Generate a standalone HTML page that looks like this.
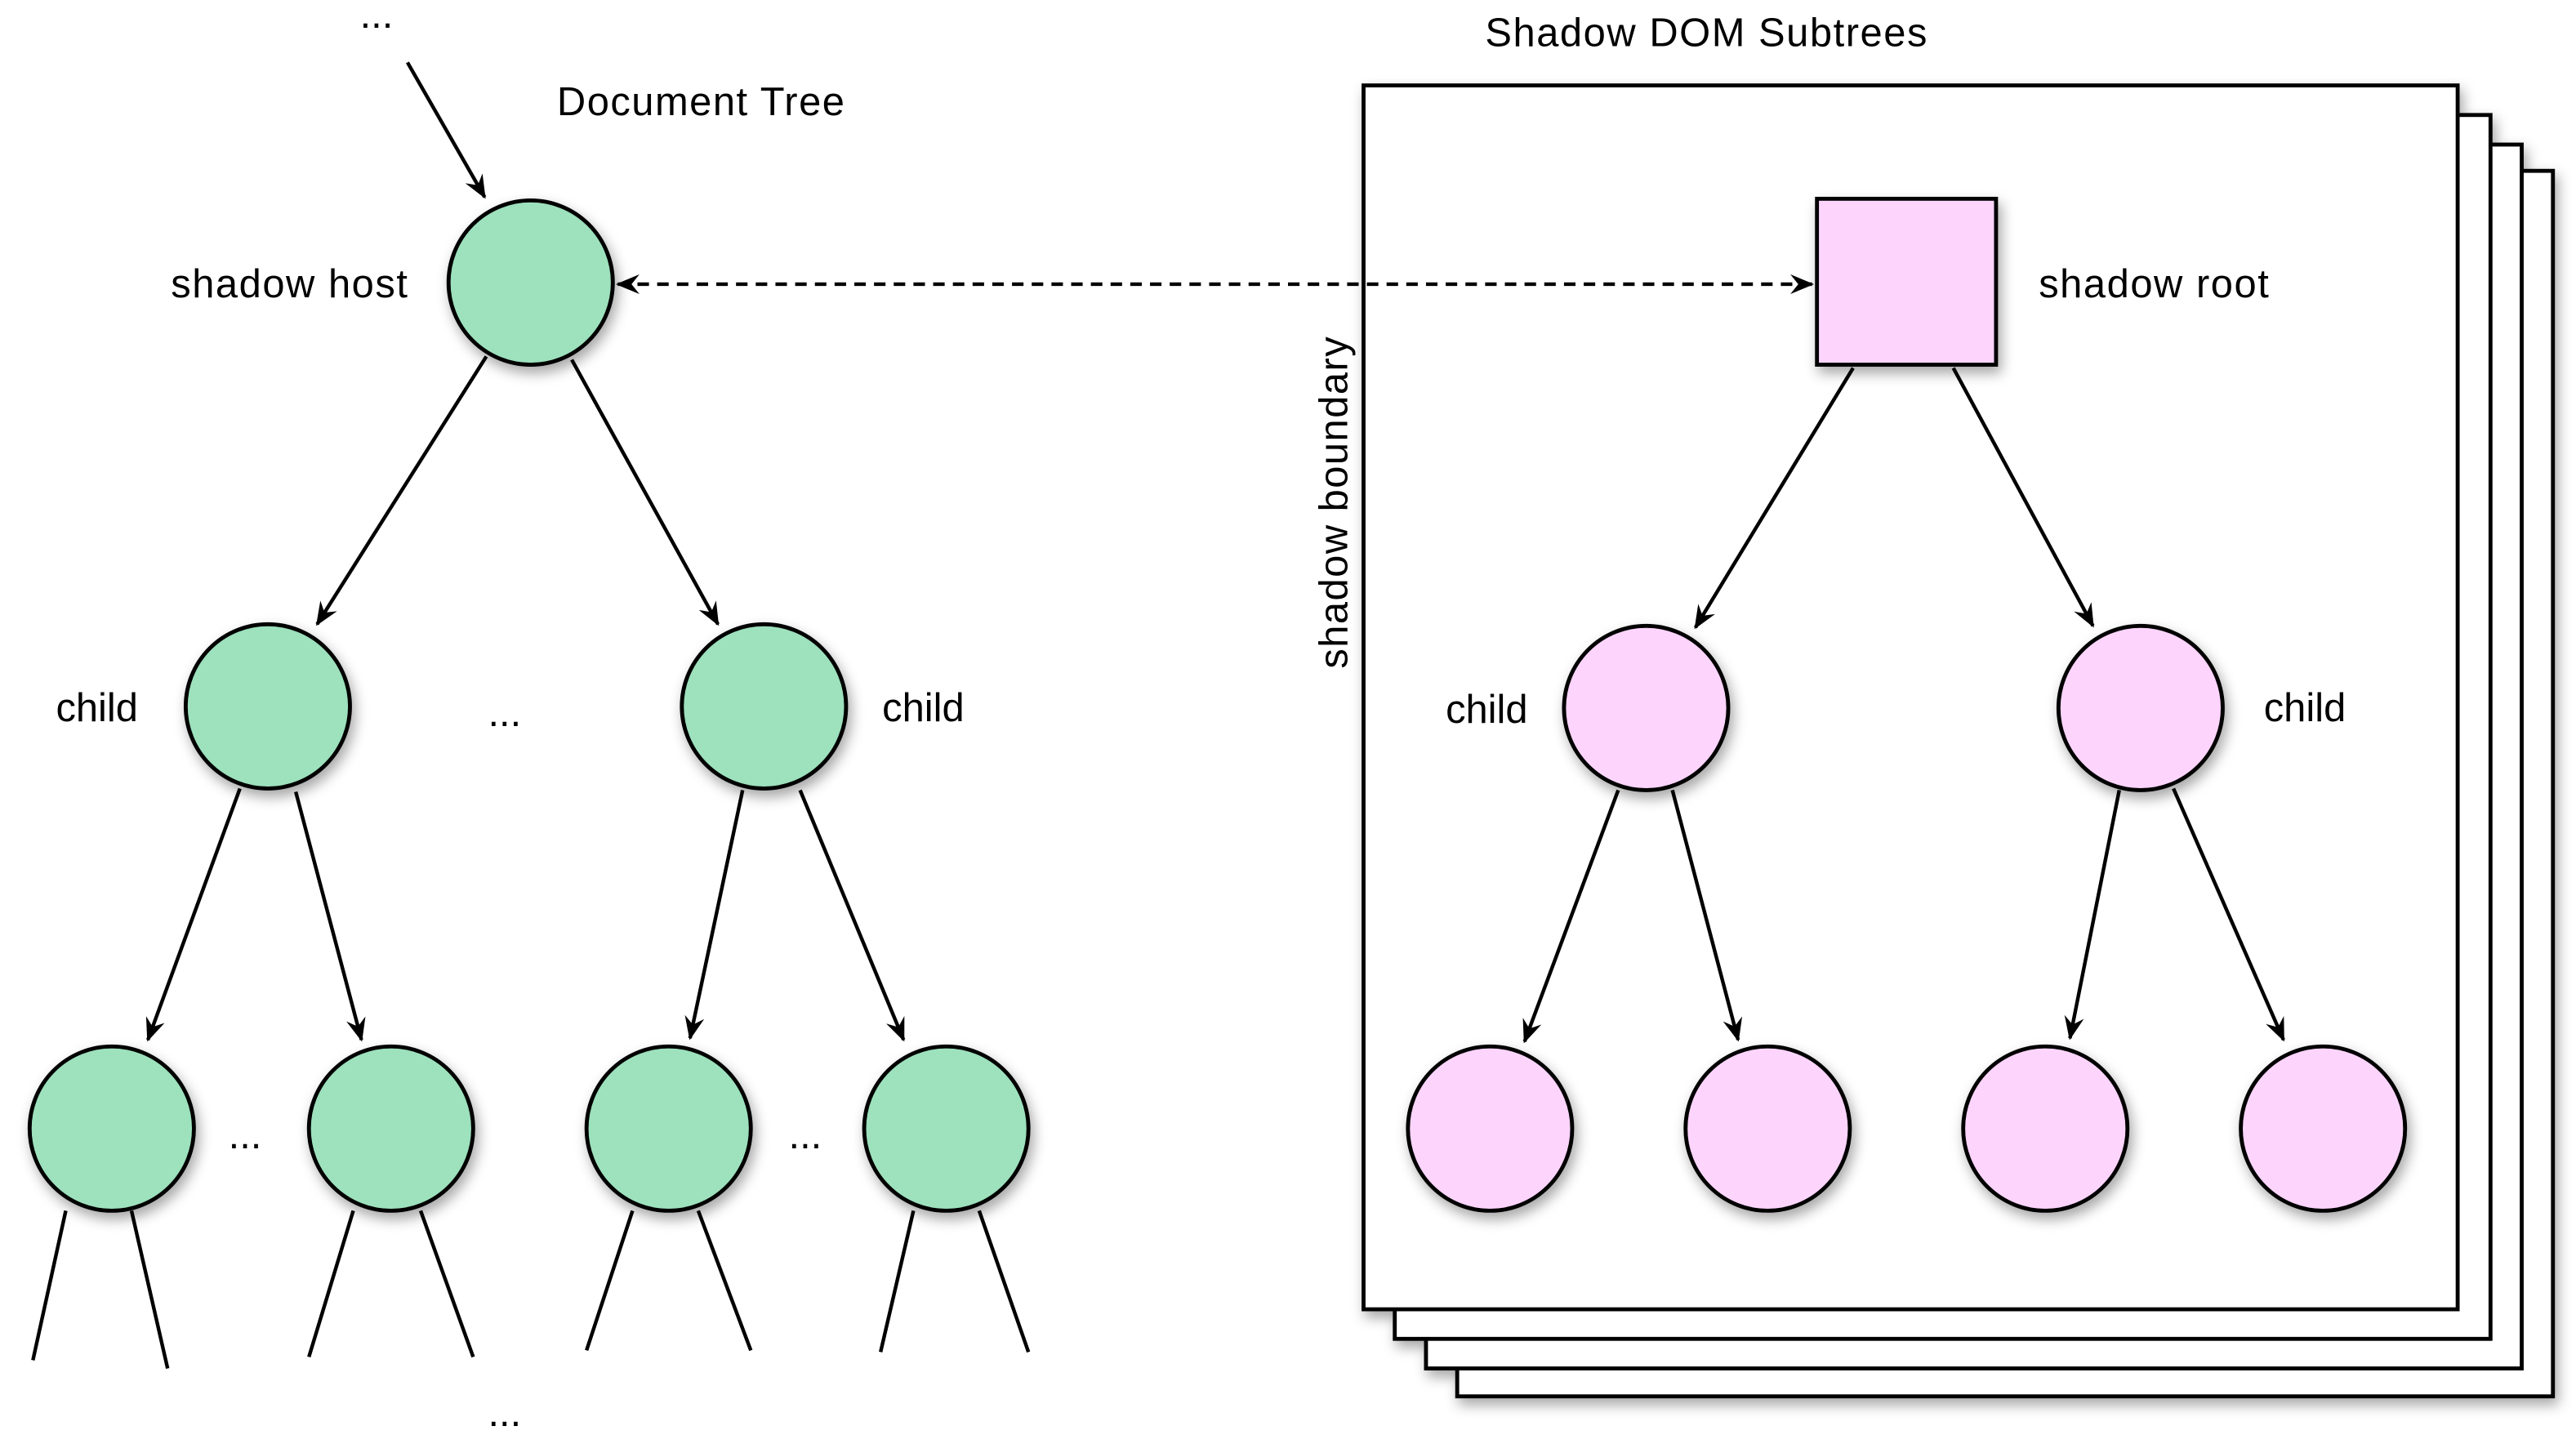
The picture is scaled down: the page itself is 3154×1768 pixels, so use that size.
<!DOCTYPE html>
<html><head><style>html,body{margin:0;padding:0;background:#fff;}svg{display:block}</style></head>
<body>
<svg width="3154" height="1768" viewBox="0 0 1568 879" xmlns="http://www.w3.org/2000/svg" font-family="Liberation Sans, Arial, sans-serif" font-size="24.3">
<defs>
<filter id="sh" x="-30%" y="-30%" width="160%" height="160%"><feDropShadow dx="2" dy="4" stdDeviation="4" flood-color="#000" flood-opacity="0.35"/></filter>
<marker id="ar" viewBox="0 0 12 10" refX="11" refY="5" markerWidth="15" markerHeight="12" orient="auto" markerUnits="userSpaceOnUse"><path d="M0,0 L12,5 L0,10 L4,5 Z" fill="#000"/></marker>
<marker id="as" viewBox="0 0 12 10" refX="1" refY="5" markerWidth="15" markerHeight="12" orient="auto" markerUnits="userSpaceOnUse"><path d="M12,0 L0,5 L12,10 L8,5 Z" fill="#000"/></marker>
</defs>
<g stroke="#000" stroke-width="2.4" fill="#fff" filter="url(#sh)">
<rect x="887" y="104" width="667" height="746"/>
<rect x="868" y="88" width="667" height="745"/>
<rect x="849" y="70" width="667" height="745"/>
<rect x="830" y="52" width="666" height="745"/>
</g>
<g stroke="#000" stroke-width="2.2" fill="none" marker-end="url(#ar)">
<line x1="248" y1="38" x2="295" y2="120"/>
<line x1="296" y1="217" x2="193" y2="380"/>
<line x1="348" y1="219" x2="437" y2="380"/>
<line x1="146" y1="480" x2="90" y2="633"/>
<line x1="180" y1="482" x2="220" y2="633"/>
<line x1="452" y1="481" x2="420" y2="632"/>
<line x1="487" y1="481" x2="550" y2="633"/>
<line x1="1128" y1="224" x2="1032" y2="382"/>
<line x1="1189" y1="224" x2="1274" y2="381"/>
<line x1="985" y1="481" x2="928" y2="634"/>
<line x1="1018" y1="481" x2="1058" y2="633"/>
<line x1="1290" y1="481" x2="1260" y2="632"/>
<line x1="1323" y1="480" x2="1390" y2="633"/>
</g>
<g stroke="#000" stroke-width="2.2">
<line x1="40" y1="737" x2="20" y2="828"/><line x1="80" y1="737" x2="102" y2="833"/>
<line x1="215" y1="737" x2="188" y2="826"/><line x1="256" y1="737" x2="288" y2="826"/>
<line x1="385" y1="737" x2="357" y2="822"/><line x1="425" y1="737" x2="457" y2="822"/>
<line x1="556" y1="737" x2="536" y2="823"/><line x1="596" y1="737" x2="626" y2="823"/>
<line x1="376" y1="173" x2="1103" y2="173" stroke-dasharray="7,5" marker-start="url(#as)" marker-end="url(#ar)"/>
</g>
<g stroke="#000" stroke-width="2.4" fill="#9de1bd" filter="url(#sh)">
<circle cx="323" cy="172" r="50"/>
<circle cx="163" cy="430" r="50"/><circle cx="465" cy="430" r="50"/>
<circle cx="68" cy="687" r="50"/><circle cx="238" cy="687" r="50"/>
<circle cx="407" cy="687" r="50"/><circle cx="576" cy="687" r="50"/>
</g>
<g stroke="#000" stroke-width="2.4" fill="#fcd4fc" filter="url(#sh)">
<rect x="1106" y="121" width="109" height="101"/>
<circle cx="1002" cy="431" r="50"/><circle cx="1303" cy="431" r="50"/>
<circle cx="907" cy="687" r="50"/><circle cx="1076" cy="687" r="50"/>
<circle cx="1245" cy="687" r="50"/><circle cx="1414" cy="687" r="50"/>
</g>
<g fill="#000">
<text x="219" y="17">...</text>
<text x="339" y="70" textLength="175">Document Tree</text>
<text x="104" y="181" textLength="144">shadow host</text>
<text x="34" y="439">child</text>
<text x="297" y="442">...</text>
<text x="537" y="439">child</text>
<text x="139" y="699">...</text>
<text x="480" y="699">...</text>
<text x="297" y="868">...</text>
<text x="904" y="28" textLength="269">Shadow DOM Subtrees</text>
<text x="1241" y="181" textLength="140">shadow root</text>
<text x="880" y="440">child</text>
<text x="1378" y="439">child</text>
<text transform="translate(820,407) rotate(-90)" textLength="202">shadow boundary</text>
</g>
</svg>
</body></html>
